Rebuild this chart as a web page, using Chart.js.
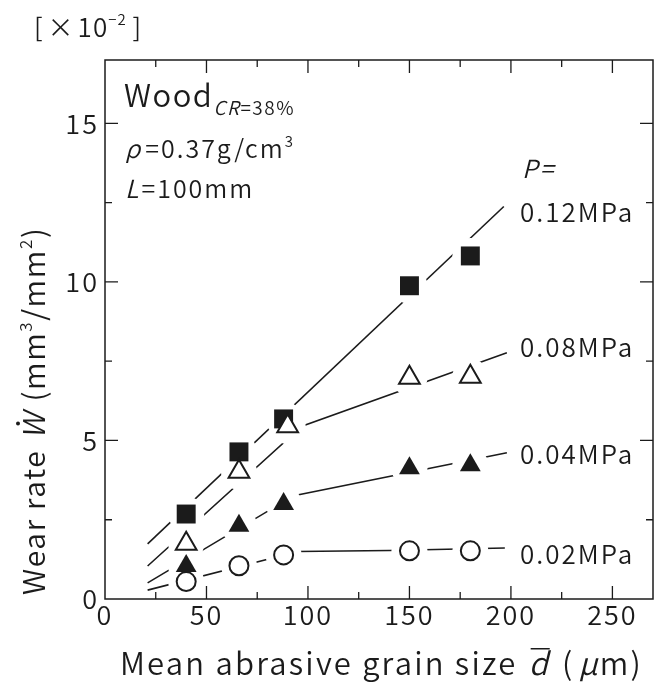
<!DOCTYPE html>
<html>
<head>
<meta charset="utf-8">
<script src="https://cdn.jsdelivr.net/npm/chart.js@4.4.1/dist/chart.umd.min.js"></script>
<style>
  body { margin: 0; background: #fff; }
  canvas { display: block; }
</style>
</head>
<body>
<canvas id="wearChart" width="657" height="682"></canvas>
<script>
// valori (Wear rate, x10^-2 mm3/mm2)
const grainSize = [40, 66, 88, 150, 180];
const grainSize008 = [40, 66, 90, 150, 180];
const wear012 = [2.68, 4.64, 5.68, 9.88, 10.82];
const wear008 = [1.74, 4.01, 5.45, 6.98, 7.01];
const wear004 = [1.04, 2.31, 3.0, 4.12, 4.22];
const wear002 = [0.55, 1.05, 1.39, 1.52, 1.52];

// linee di tendenza disegnate a mano
const fitX012 = [21, 196.5];
const fitY012 = [1.74, 12.38];
const fitX008 = [21, 97, 198];
const fitY008 = [1.04, 5.45, 7.77];
const fitX004 = [21, 93, 198];
const fitY004 = [0.51, 3.26, 4.61];
const fitX002 = [21, 95, 140, 197];
const fitY002 = [0.28, 1.5, 1.53, 1.61];

const pressureLabels = ['0.12MPa', '0.08MPa', '0.04MPa', '0.02MPa'];

const FAM = '"Noto Sans CJK JP", "DejaVu Sans", sans-serif';
const INK = '#1b1b1b';
function font(size, italic) {
  return (italic ? 'italic ' : '') + '350 ' + size + 'px ' + FAM;
}

function pts(xs, ys) {
  return xs.map((x, i) => ({ x: x, y: ys[i] }));
}

function lineSet(xs, ys) {
  return {
    data: pts(xs, ys), showLine: true, pointRadius: 0,
    borderColor: INK, borderWidth: 1.6, order: 3
  };
}

function haloSet(xs, ys) {
  return {
    data: pts(xs, ys), pointStyle: 'circle', pointRadius: 18,
    pointBackgroundColor: '#fff', pointBorderWidth: 0, order: 2
  };
}

function markerSet(xs, ys, style, radius, filled) {
  return {
    data: pts(xs, ys), pointStyle: style, pointRadius: radius,
    pointBackgroundColor: filled ? INK : '#fff',
    pointBorderColor: INK, pointBorderWidth: filled ? 0 : 2, order: 1
  };
}

// testo composto (pezzi con font diversi)
function drawRuns(ctx, x, y, runs, spacing) {
  let cx = x;
  ctx.letterSpacing = (spacing || 0) + 'px';
  for (const r of runs) {
    ctx.font = r.font;
    ctx.fillText(r.text, cx, y + (r.dy || 0));
    const w = ctx.measureText(r.text).width;
    if (r.bar) ctx.fillRect(cx + r.bar[0], y - r.bar[1], w - spacing, 1.5);
    if (r.dot) {
      ctx.beginPath();
      ctx.arc(cx + w / 2 + r.dot[0], y - r.dot[1], 2, 0, Math.PI * 2);
      ctx.fill();
    }
    cx += w + (r.gap || 0);
  }
  return cx;
}

const spacingPlugin = {
  id: 'spacing',
  beforeDraw(chart) { chart.ctx.letterSpacing = '2px'; }
};

const framePlugin = {
  id: 'frame',
  afterDraw(chart) {
    const ctx = chart.ctx;
    const a = chart.chartArea;
    const sx = chart.scales.x, sy = chart.scales.y;
    ctx.save();
    ctx.strokeStyle = INK;
    ctx.lineWidth = 1.5;
    ctx.strokeRect(a.left, a.top, a.right - a.left, a.bottom - a.top);

    // tacche verso l'interno
    ctx.lineWidth = 1.3;
    ctx.beginPath();
    for (let v = 25; v <= 250; v += 25) {
      const px = sx.getPixelForValue(v);
      const len = v % 50 === 0 ? 13 : 7;
      ctx.moveTo(px, a.bottom); ctx.lineTo(px, a.bottom - len);
      ctx.moveTo(px, a.top); ctx.lineTo(px, a.top + len);
    }
    for (let v = 2.5; v <= 15; v += 2.5) {
      const py = sy.getPixelForValue(v);
      const len = v % 5 === 0 ? 13 : 7;
      ctx.moveTo(a.left, py); ctx.lineTo(a.left + len, py);
      ctx.moveTo(a.right, py); ctx.lineTo(a.right - len, py);
    }
    ctx.stroke();

    ctx.fillStyle = INK;
    ctx.textBaseline = 'alphabetic';
    ctx.textAlign = 'left';

    // fattore di scala
    drawRuns(ctx, 34, 37, [
      { text: '[', font: font(26), gap: 4 },
      { text: '×', font: font(26), gap: 3 },
      { text: '10', font: font(26) },
      { text: '−2', font: font(15), dy: -12, gap: 6 },
      { text: ']', font: font(26) }
    ], 1);

    // annotazioni
    drawRuns(ctx, 124, 107, [
      { text: 'Wood', font: font(31), gap: 0 },
      { text: 'CR', font: font(19, true), dy: 8 },
      { text: '=38%', font: font(19), dy: 8 }
    ], 1.5);
    drawRuns(ctx, 125, 158, [
      { text: 'ρ', font: font(25, true), gap: 3 },
      { text: '=0.37g/cm', font: font(25) },
      { text: '3', font: font(15), dy: -11 }
    ], 2);
    drawRuns(ctx, 125, 198, [
      { text: 'L', font: font(25, true), gap: 1 },
      { text: '=100mm', font: font(25) }
    ], 2);
    drawRuns(ctx, 522, 178, [{ text: 'P=', font: font(25, true) }], 2);

    const labelBase = [222, 357, 464, 564];
    pressureLabels.forEach((t, i) => {
      drawRuns(ctx, 520, labelBase[i], [{ text: t, font: font(26) }], 2);
    });

    // titolo asse x
    drawRuns(ctx, 120, 675, [
      { text: 'Mean abrasive grain size ', font: font(31), gap: 2 },
      { text: 'd', font: font(31, true), bar: [2, 27], gap: 12 },
      { text: '(', font: font(31), gap: 4 },
      { text: 'μ', font: font(31, true) },
      { text: 'm)', font: font(31) }
    ], 2.2);

    // titolo asse y (ruotato)
    ctx.translate(45, 595);
    ctx.rotate(-Math.PI / 2);
    drawRuns(ctx, 0, 0, [
      { text: 'Wear rate ', font: font(30), gap: 2 },
      { text: 'W', font: font(30, true), dot: [2, 27], gap: 10 },
      { text: '(mm', font: font(30) },
      { text: '3', font: font(17), dy: -13 },
      { text: '/mm', font: font(30) },
      { text: '2', font: font(17), dy: -13 },
      { text: ')', font: font(30) }
    ], 1.6);
    ctx.restore();
  }
};

const tickFont = { family: FAM, size: 27, weight: '350' };

new Chart(document.getElementById('wearChart'), {
  type: 'scatter',
  data: {
    datasets: [
      lineSet(fitX012, fitY012),
      lineSet(fitX008, fitY008),
      lineSet(fitX004, fitY004),
      lineSet(fitX002, fitY002),
      haloSet(grainSize, wear012),
      haloSet(grainSize008, wear008),
      haloSet(grainSize, wear004),
      haloSet(grainSize, wear002),
      markerSet(grainSize008, wear008, 'triangle', 12, false),
      markerSet(grainSize, wear004, 'triangle', 12, true),
      markerSet(grainSize, wear002, 'circle', 9.5, false),
      markerSet(grainSize, wear012, 'rect', 13.4, true)
    ]
  },
  options: {
    responsive: false,
    animation: false,
    layout: { autoPadding: false, padding: { left: 0, top: 60, right: 4, bottom: 0 } },
    plugins: { legend: { display: false }, tooltip: { enabled: false } },
    scales: {
      x: {
        type: 'linear', min: 0, max: 270,
        ticks: { stepSize: 50, includeBounds: false, font: tickFont, color: INK, padding: 0, maxRotation: 0 },
        grid: { display: false, drawTicks: false },
        border: { display: false },
        afterFit(s) { s.height = 83; s.paddingLeft = 0; s.paddingRight = 0; }
      },
      y: {
        type: 'linear', min: 0, max: 17,
        ticks: { stepSize: 5, includeBounds: false, font: tickFont, color: INK, padding: 6 },
        grid: { display: false, drawTicks: false },
        border: { display: false },
        afterFit(s) { s.width = 105; s.paddingTop = 0; s.paddingBottom = 0; }
      }
    }
  },
  plugins: [spacingPlugin, framePlugin]
});
</script>
</body>
</html>
